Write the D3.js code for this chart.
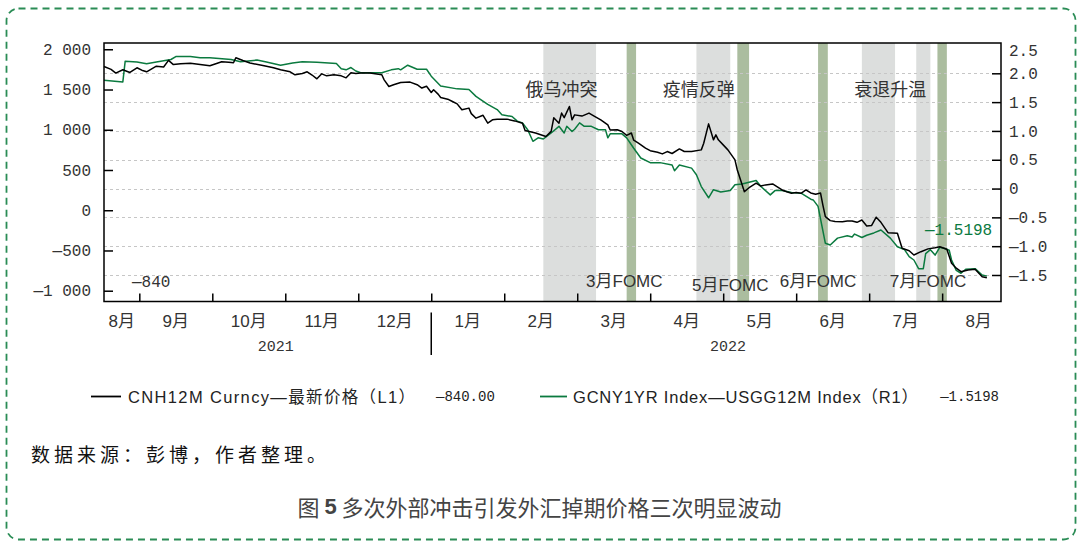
<!DOCTYPE html>
<html>
<head>
<meta charset="utf-8">
<script src="https://cdn.jsdelivr.net/npm/d3@7"></script>
<style>
    html, body { margin: 0; padding: 0; background: #fff; }
    svg { display: block; }
</style>
</head>
<body>
<div id="chart"></div>
<script>
// axis labels
const monthNames = ['8月', '9月', '10月', '11月', '12月', '1月', '2月', '3月', '4月', '5月', '6月', '7月', '8月'];
const yearLabels = [['2021', '2021-10-28'], ['2022', '2022-05-03']];
const leftTicks = [2000, 1500, 1000, 500, 0, -500, -1000];
const rightTicks = [2.5, 2.0, 1.5, 1.0, 0.5, 0, -0.5, -1.0, -1.5];

// CNH12M Curncy (left axis)
const cnhSeries = [
    ['2021-08-17', 1786], ['2021-08-20', 1750], ['2021-08-22', 1704], ['2021-08-25', 1745], ['2021-08-28', 1712],
    ['2021-08-31', 1770], ['2021-09-02', 1740], ['2021-09-04', 1720], ['2021-09-08', 1790], ['2021-09-11', 1780],
    ['2021-09-13', 1862], ['2021-09-15', 1810], ['2021-09-18', 1820], ['2021-09-22', 1826], ['2021-09-26', 1810],
    ['2021-09-30', 1795], ['2021-10-05', 1845], ['2021-10-08', 1840], ['2021-10-10', 1833], ['2021-10-11', 1895],
    ['2021-10-14', 1860], ['2021-10-17', 1830], ['2021-10-23', 1795], ['2021-10-27', 1770], ['2021-10-30', 1745],
    ['2021-11-03', 1720], ['2021-11-05', 1683], ['2021-11-08', 1700], ['2021-11-10', 1720], ['2021-11-12', 1680],
    ['2021-11-14', 1633], ['2021-11-16', 1695], ['2021-11-18', 1670], ['2021-11-21', 1683], ['2021-11-24', 1670],
    ['2021-11-26', 1645], ['2021-11-28', 1708], ['2021-11-30', 1700], ['2021-12-02', 1704], ['2021-12-06', 1704],
    ['2021-12-11', 1683], ['2021-12-12', 1620], ['2021-12-14', 1538], ['2021-12-16', 1560], ['2021-12-19', 1587],
    ['2021-12-23', 1592], ['2021-12-26', 1560], ['2021-12-28', 1518], ['2021-12-30', 1540], ['2022-01-01', 1463],
    ['2022-01-02', 1497], ['2022-01-04', 1440], ['2022-01-05', 1400], ['2022-01-08', 1380], ['2022-01-10', 1351],
    ['2022-01-12', 1322], ['2022-01-14', 1248], ['2022-01-17', 1269], ['2022-01-18', 1200], ['2022-01-20', 1144],
    ['2022-01-23', 1180], ['2022-01-25', 1082], ['2022-01-27', 1123], ['2022-01-29', 1132], ['2022-02-02', 1132],
    ['2022-02-05', 1110], ['2022-02-08', 1082], ['2022-02-09', 990], ['2022-02-13', 960], ['2022-02-17', 916],
    ['2022-02-19', 980], ['2022-02-20', 1148], ['2022-02-22', 1082], ['2022-02-23', 1207], ['2022-02-24', 1150],
    ['2022-02-26', 1289], ['2022-02-27', 1123], ['2022-02-28', 1185], ['2022-03-03', 1170], ['2022-03-06', 1207],
    ['2022-03-08', 1173], ['2022-03-11', 1123], ['2022-03-14', 1061], ['2022-03-15', 997], ['2022-03-18', 1000],
    ['2022-03-20', 978], ['2022-03-22', 930], ['2022-03-24', 960], ['2022-03-25', 870], ['2022-03-27', 833],
    ['2022-03-30', 771], ['2022-04-01', 740], ['2022-04-04', 721], ['2022-04-06', 700], ['2022-04-08', 729],
    ['2022-04-10', 705], ['2022-04-13', 762], ['2022-04-15', 730], ['2022-04-18', 729], ['2022-04-22', 750],
    ['2022-04-23', 833], ['2022-04-25', 1073], ['2022-04-27', 875], ['2022-04-28', 937], ['2022-04-29', 875],
    ['2022-05-01', 812], ['2022-05-03', 750], ['2022-05-06', 625], ['2022-05-07', 500], ['2022-05-10', 231],
    ['2022-05-12', 280], ['2022-05-15', 336], ['2022-05-17', 300], ['2022-05-19', 315], ['2022-05-22', 327],
    ['2022-05-24', 290], ['2022-05-26', 252], ['2022-05-28', 230], ['2022-05-30', 211], ['2022-06-01', 220],
    ['2022-06-03', 211], ['2022-06-05', 252], ['2022-06-07', 215], ['2022-06-09', 199], ['2022-06-11', 215],
    ['2022-06-12', 60], ['2022-06-13', -80], ['2022-06-15', -129], ['2022-06-17', -140], ['2022-06-20', -142],
    ['2022-06-22', -135], ['2022-06-24', -133], ['2022-06-26', -150], ['2022-06-28', -121], ['2022-06-30', -195],
    ['2022-07-02', -190], ['2022-07-04', -87], ['2022-07-06', -150], ['2022-07-09', -279], ['2022-07-13', -286],
    ['2022-07-15', -473], ['2022-07-18', -503], ['2022-07-20', -556], ['2022-07-23', -515], ['2022-07-26', -480],
    ['2022-07-29', -465], ['2022-07-31', -453], ['2022-08-03', -485], ['2022-08-05', -659], ['2022-08-07', -720],
    ['2022-08-09', -764], ['2022-08-12', -743], ['2022-08-15', -734], ['2022-08-18', -826], ['2022-08-20', -840]
];

// GCNY1YR Index - USGG12M Index (right axis)
const spreadSeries = [
    ['2021-08-17', 1.88], ['2021-08-25', 1.85], ['2021-08-26', 2.21], ['2021-08-31', 2.195], ['2021-09-04', 2.167],
    ['2021-09-08', 2.195], ['2021-09-14', 2.24], ['2021-09-16', 2.29], ['2021-09-22', 2.29], ['2021-09-26', 2.27],
    ['2021-09-30', 2.27], ['2021-10-09', 2.24], ['2021-10-13', 2.20], ['2021-10-20', 2.23], ['2021-10-24', 2.195],
    ['2021-10-30', 2.14], ['2021-11-04', 2.18], ['2021-11-08', 2.20], ['2021-11-14', 2.19], ['2021-11-22', 2.17],
    ['2021-11-24', 2.08], ['2021-11-26', 2.06], ['2021-11-28', 2.10], ['2021-11-30', 2.04], ['2021-12-02', 2.01],
    ['2021-12-11', 2.01], ['2021-12-15', 2.06], ['2021-12-18', 2.08], ['2021-12-19', 2.06], ['2021-12-22', 2.14],
    ['2021-12-26', 2.07], ['2021-12-30', 2.07], ['2022-01-01', 1.95], ['2022-01-05', 1.78], ['2022-01-12', 1.73],
    ['2022-01-17', 1.72], ['2022-01-20', 1.60], ['2022-01-22', 1.545], ['2022-01-25', 1.46], ['2022-01-29', 1.37],
    ['2022-01-31', 1.28], ['2022-02-04', 1.25], ['2022-02-06', 1.17], ['2022-02-08', 1.14], ['2022-02-10', 1.02],
    ['2022-02-12', 0.82], ['2022-02-14', 0.88], ['2022-02-16', 0.86], ['2022-02-19', 0.965], ['2022-02-22', 1.08],
    ['2022-02-24', 0.965], ['2022-02-25', 1.08], ['2022-02-27', 0.99], ['2022-02-28', 1.03], ['2022-03-02', 1.14],
    ['2022-03-04', 1.08], ['2022-03-07', 1.08], ['2022-03-10', 1.02], ['2022-03-13', 1.02], ['2022-03-14', 0.88],
    ['2022-03-15', 0.95], ['2022-03-20', 0.95], ['2022-03-22', 0.88], ['2022-03-25', 0.70], ['2022-03-28', 0.53],
    ['2022-04-01', 0.45], ['2022-04-05', 0.45], ['2022-04-10', 0.41], ['2022-04-11', 0.31], ['2022-04-13', 0.41],
    ['2022-04-18', 0.355], ['2022-04-20', 0.24], ['2022-04-22', 0.035], ['2022-04-25', -0.16], ['2022-04-27', -0.02],
    ['2022-04-30', -0.06], ['2022-05-04', -0.035], ['2022-05-06', 0.065], ['2022-05-09', 0.08], ['2022-05-15', 0.14],
    ['2022-05-17', 0.035], ['2022-05-21', -0.11], ['2022-05-23', -0.035], ['2022-05-26', -0.035], ['2022-05-30', -0.07],
    ['2022-06-03', -0.08], ['2022-06-07', -0.185], ['2022-06-08', -0.197], ['2022-06-10', -0.31], ['2022-06-13', -0.95],
    ['2022-06-15', -0.98], ['2022-06-18', -0.86], ['2022-06-22', -0.82], ['2022-06-24', -0.84], ['2022-06-25', -0.79],
    ['2022-06-28', -0.85], ['2022-06-30', -0.81], ['2022-07-03', -0.77], ['2022-07-06', -0.72], ['2022-07-10', -0.86],
    ['2022-07-13', -1.01], ['2022-07-16', -1.06], ['2022-07-18', -1.18], ['2022-07-20', -1.24], ['2022-07-22', -1.39],
    ['2022-07-24', -1.39], ['2022-07-25', -1.13], ['2022-07-27', -1.06], ['2022-07-29', -1.155], ['2022-07-31', -1.02],
    ['2022-08-02', -1.04], ['2022-08-04', -1.07], ['2022-08-05', -1.24], ['2022-08-07', -1.42], ['2022-08-09', -1.47],
    ['2022-08-11', -1.40], ['2022-08-15', -1.39], ['2022-08-18', -1.50], ['2022-08-20', -1.5198]
];

// shaded periods
const eventBands = [['2022-02-16', '2022-03-09'], ['2022-04-20', '2022-05-04'], ['2022-06-28', '2022-07-12'], ['2022-07-21', '2022-07-27']];
const fomcBands = [['2022-03-22', '2022-03-26'], ['2022-05-07', '2022-05-12'], ['2022-06-10', '2022-06-14'], ['2022-07-30', '2022-08-03']];
const eventLabels = [['俄乌冲突', '2022-02-23'], ['疫情反弹', '2022-04-21'], ['衰退升温', '2022-07-10']];
const fomcLabels = [['3月FOMC', '2022-03-21'], ['5月FOMC', '2022-05-04'], ['6月FOMC', '2022-06-10'], ['7月FOMC', '2022-07-26']];

const legendItems = [
    ['CNH12M Curncy—最新价格（L1）', '—840.00'],
    ['GCNY1YR Index—USGG12M Index（R1）', '—1.5198']
];

// months are drawn with equal width, so dates become fractional months since Aug 2021
function toMonth(s) {
    const [y, m, d] = s.split('-').map(Number);
    const days = new Date(y, m, 0).getDate();
    return (y - 2021) * 12 + (m - 8) + (d - 1) / days;
}

const W = 1079, H = 546;
const plot = { left: 104, right: 1001, top: 43, bottom: 301.5 };
const monoFont = '"Liberation Mono", "DejaVu Sans Mono", monospace';
const cjkFont = '"Liberation Sans", "Noto Sans CJK SC", sans-serif';
const textColor = '#333';
const green = '#0b7a3f';

const xStart = toMonth('2021-08-17');
const xEnd = toMonth('2022-08-26');

const x = d3.scaleLinear().domain([xStart, xEnd]).range([plot.left, plot.right]);
const yL = d3.scaleLinear().domain([-1134, 2078]).range([plot.bottom, plot.top]);
const yR = d3.scaleLinear().domain([-1.96, 2.526]).range([plot.bottom, plot.top]);

const svg = d3.select('#chart')
    .append('svg')
    .attr('width', W)
    .attr('height', H);

// dashed outer border
svg.append('rect')
    .attr('x', 6.5).attr('y', 8.5)
    .attr('width', 1069).attr('height', 531)
    .attr('rx', 12)
    .attr('fill', 'none')
    .attr('stroke', '#2a8c55')
    .attr('stroke-width', 1.8)
    .attr('stroke-dasharray', '7,5');

// shaded bands
svg.append('g').selectAll('rect')
    .data(eventBands)
    .enter()
    .append('rect')
    .attr('x', d => x(toMonth(d[0])))
    .attr('width', d => x(toMonth(d[1])) - x(toMonth(d[0])))
    .attr('y', plot.top)
    .attr('height', plot.bottom - plot.top)
    .attr('fill', '#dcdedd');

svg.append('g').selectAll('rect')
    .data(fomcBands)
    .enter()
    .append('rect')
    .attr('x', d => x(toMonth(d[0])))
    .attr('width', d => x(toMonth(d[1])) - x(toMonth(d[0])))
    .attr('y', plot.top)
    .attr('height', plot.bottom - plot.top)
    .attr('fill', '#abbd9f');

// grid lines follow the right axis
svg.append('g').selectAll('line')
    .data(rightTicks.filter(d => d < 2.5))
    .enter()
    .append('line')
    .attr('x1', plot.left).attr('x2', plot.right)
    .attr('y1', d => Math.round(yR(d)) + 0.5)
    .attr('y2', d => Math.round(yR(d)) + 0.5)
    .attr('stroke', '#c6c6c6')
    .attr('stroke-width', 1)
    .attr('stroke-dasharray', '3,3');

// series lines
const lineL = d3.line().x(d => x(toMonth(d[0]))).y(d => yL(d[1]));
const lineR = d3.line().x(d => x(toMonth(d[0]))).y(d => yR(d[1]));

svg.append('path')
    .datum(spreadSeries)
    .attr('d', lineR)
    .attr('fill', 'none')
    .attr('stroke', green)
    .attr('stroke-width', 1.5)
    .attr('stroke-linejoin', 'round');

svg.append('path')
    .datum(cnhSeries)
    .attr('d', lineL)
    .attr('fill', 'none')
    .attr('stroke', '#000')
    .attr('stroke-width', 1.5)
    .attr('stroke-linejoin', 'round');

// plot frame
svg.append('rect')
    .attr('x', plot.left).attr('y', plot.top)
    .attr('width', plot.right - plot.left)
    .attr('height', plot.bottom - plot.top)
    .attr('fill', 'none')
    .attr('stroke', '#000')
    .attr('stroke-width', 1.5);

// axes
const fmtLeft = v => v === 0 ? '0' : (v < 0 ? '—' : '') + d3.format(',')(Math.abs(v)).replace(/,/g, ' ');
const fmtRight = v => v === 0 ? '0' : (v < 0 ? '—' : '') + Math.abs(v).toFixed(1);

const leftAxis = svg.append('g')
    .attr('transform', `translate(${plot.left},0)`)
    .call(d3.axisLeft(yL).tickValues(leftTicks).tickSizeInner(-9).tickSizeOuter(0).tickPadding(13).tickFormat(fmtLeft));

const rightAxis = svg.append('g')
    .attr('transform', `translate(${plot.right},0)`)
    .call(d3.axisRight(yR).tickValues(rightTicks).tickSizeInner(-9).tickSizeOuter(0).tickPadding(8).tickFormat(fmtRight));

const bottomAxis = svg.append('g')
    .attr('transform', `translate(0,${plot.bottom})`)
    .call(d3.axisBottom(x).tickValues(d3.range(1, 13)).tickSizeInner(-8).tickSizeOuter(0).tickFormat(''));

[leftAxis, rightAxis, bottomAxis].forEach(g => {
    g.select('.domain').remove();
    g.selectAll('.tick line').attr('stroke', '#000').attr('stroke-width', 1.5);
    g.selectAll('text')
        .attr('font-family', monoFont)
        .attr('font-size', 16)
        .attr('fill', textColor);
});

// top label of the right axis sits just inside the frame
rightAxis.selectAll('.tick')
    .filter(d => d === 2.5)
    .each(function () {
        d3.select(this).select('line').remove();
        d3.select(this).select('text').attr('dy', '0.32em').attr('y', 6);
    });

// month labels, centred in the visible part of each month
svg.append('g').selectAll('text')
    .data(monthNames)
    .enter()
    .append('text')
    .attr('x', (d, i) => x(Math.max(i + 0.5, (Math.max(i, xStart) + i + 1) / 2)))
    .attr('y', 321)
    .attr('text-anchor', 'middle')
    .attr('dominant-baseline', 'central')
    .attr('font-family', cjkFont)
    .attr('font-size', 17)
    .attr('fill', textColor)
    .text(d => d);

svg.append('g').selectAll('text')
    .data(yearLabels)
    .enter()
    .append('text')
    .attr('x', d => x(toMonth(d[1])))
    .attr('y', 347)
    .attr('text-anchor', 'middle')
    .attr('dominant-baseline', 'central')
    .attr('font-family', monoFont)
    .attr('font-size', 15)
    .attr('fill', textColor)
    .text(d => d[0]);

svg.append('line')
    .attr('x1', x(toMonth('2022-01-01'))).attr('x2', x(toMonth('2022-01-01')))
    .attr('y1', 312.5).attr('y2', 355)
    .attr('stroke', '#000')
    .attr('stroke-width', 1.5);

// annotations
svg.append('g').selectAll('text')
    .data(eventLabels)
    .enter()
    .append('text')
    .attr('x', d => x(toMonth(d[1])))
    .attr('y', 90)
    .attr('text-anchor', 'middle')
    .attr('dominant-baseline', 'central')
    .attr('font-family', cjkFont)
    .attr('font-size', 18)
    .attr('fill', textColor)
    .text(d => d[0]);

svg.append('g').selectAll('text')
    .data(fomcLabels)
    .enter()
    .append('text')
    .attr('x', d => x(toMonth(d[1])))
    .attr('y', d => d[0].startsWith('5') ? 285 : 281)
    .attr('text-anchor', 'middle')
    .attr('dominant-baseline', 'central')
    .attr('font-family', cjkFont)
    .attr('font-size', 17)
    .attr('fill', textColor)
    .text(d => d[0]);

// last values
const lastL = cnhSeries[cnhSeries.length - 1][1];
const lastR = spreadSeries[spreadSeries.length - 1][1];

svg.append('text')
    .attr('x', plot.left + 28)
    .attr('y', yL(lastL) + 5)
    .attr('dominant-baseline', 'central')
    .attr('font-family', monoFont)
    .attr('font-size', 16)
    .attr('fill', textColor)
    .text('—' + Math.abs(lastL));

svg.append('text')
    .attr('x', 925)
    .attr('y', 231)
    .attr('dominant-baseline', 'central')
    .attr('font-family', monoFont)
    .attr('font-size', 16)
    .attr('fill', green)
    .text('—' + Math.abs(lastR));

// legend
const legendY = 396.5;
const legendPos = [
    { x1: 91, x2: 121, text: 128, width: 287, value: 436, anchor: 'start', color: '#000' },
    { x1: 540, x2: 567, text: 573, width: 345, value: 999, anchor: 'end', color: green }
];
legendItems.forEach((item, i) => {
    const p = legendPos[i];
    svg.append('line')
        .attr('x1', p.x1).attr('x2', p.x2)
        .attr('y1', legendY).attr('y2', legendY)
        .attr('stroke', p.color)
        .attr('stroke-width', 1.8);
    svg.append('text')
        .attr('x', p.text).attr('y', legendY)
        .attr('dominant-baseline', 'central')
        .attr('font-family', cjkFont)
        .attr('font-size', 16.5)
        .attr('textLength', p.width)
        .attr('lengthAdjust', 'spacing')
        .attr('fill', '#222')
        .text(item[0]);
    svg.append('text')
        .attr('x', p.value).attr('y', legendY)
        .attr('text-anchor', p.anchor)
        .attr('dominant-baseline', 'central')
        .attr('font-family', monoFont)
        .attr('font-size', 14)
        .attr('fill', '#222')
        .text(item[1]);
});

// source note
svg.append('text')
    .attr('x', 31).attr('y', 453)
    .attr('dominant-baseline', 'central')
    .attr('font-family', '"Noto Sans CJK SC", sans-serif')
    .attr('font-size', 19)
    .attr('letter-spacing', 4)
    .attr('fill', '#111')
    .text('数据来源：彭博，作者整理。');

// caption
const caption = svg.append('text')
    .attr('x', W / 2).attr('y', 506)
    .attr('text-anchor', 'middle')
    .attr('dominant-baseline', 'central')
    .attr('font-family', '"Noto Sans CJK SC", sans-serif')
    .attr('font-size', 22)
    .attr('fill', '#444');
caption.append('tspan').text('图 ');
caption.append('tspan').attr('font-weight', 'bold').attr('font-family', '"Liberation Sans", sans-serif').text('5');
caption.append('tspan').text(' 多次外部冲击引发外汇掉期价格三次明显波动');
</script>
</body>
</html>
